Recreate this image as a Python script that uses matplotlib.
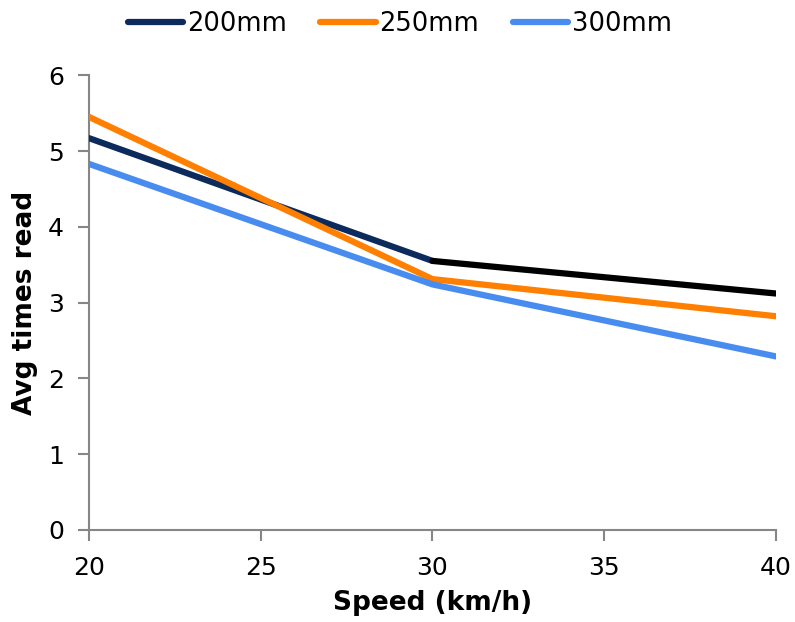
import numpy as np
import matplotlib.pyplot as plt

plt.rcParams.update({
    "font.family": "DejaVu Sans",
    "font.size": 18,
})

# data
speed = [20, 30, 40]
avg_200 = [5.17, 3.55, 3.12]
avg_250 = [5.45, 3.31, 2.82]
avg_300 = [4.83, 3.24, 2.29]

series = [
    ("200mm", avg_200, "#0C2A5B"),
    ("250mm", avg_250, "#FF7F00"),
    ("300mm", avg_300, "#478CEE"),
]

fig = plt.figure(figsize=(7.95, 6.22), dpi=100)
ax = fig.add_axes([0.112, 0.148, 0.864, 0.731])

handles = []
for name, vals, col in series:
    if name == "200mm":
        # first leg navy, second leg drawn black as in the original
        h, = ax.plot(speed[:2], vals[:2], color=col, lw=4.5,
                     solid_capstyle="round", label=name, zorder=3)
        ax.plot(speed[1:], vals[1:], color="black", lw=4.5,
                solid_capstyle="round", zorder=3)
    else:
        h, = ax.plot(speed, vals, color=col, lw=4.5, solid_capstyle="round",
                     label=name, zorder=3)
    handles.append(h)

ax.set_xlim(20, 40)
ax.set_ylim(0, 6)
ax.set_xticks([20, 25, 30, 35, 40])
ax.set_yticks(range(0, 7))

for side in ["top", "right"]:
    ax.spines[side].set_visible(False)
for side in ["left", "bottom"]:
    ax.spines[side].set_color("#868686")
    ax.spines[side].set_linewidth(1.5)
ax.tick_params(direction="out", length=8, width=1.5, color="#868686",
               labelsize=18)
ax.tick_params(axis="x", pad=11)
ax.tick_params(axis="y", pad=10)

ax.set_xlabel("Speed (km/h)", fontweight="bold", fontsize=19, labelpad=7)
ax.set_ylabel("Avg times read", fontweight="bold", fontsize=19, labelpad=7)

fig.legend(handles=handles, labels=[s[0] for s in series],
           loc="center", bbox_to_anchor=(0.503, 0.962), ncol=3,
           frameon=False, fontsize=18.5, handlelength=2.15,
           handletextpad=0.15, columnspacing=1.3)

fig.savefig("out.png", dpi=100)
